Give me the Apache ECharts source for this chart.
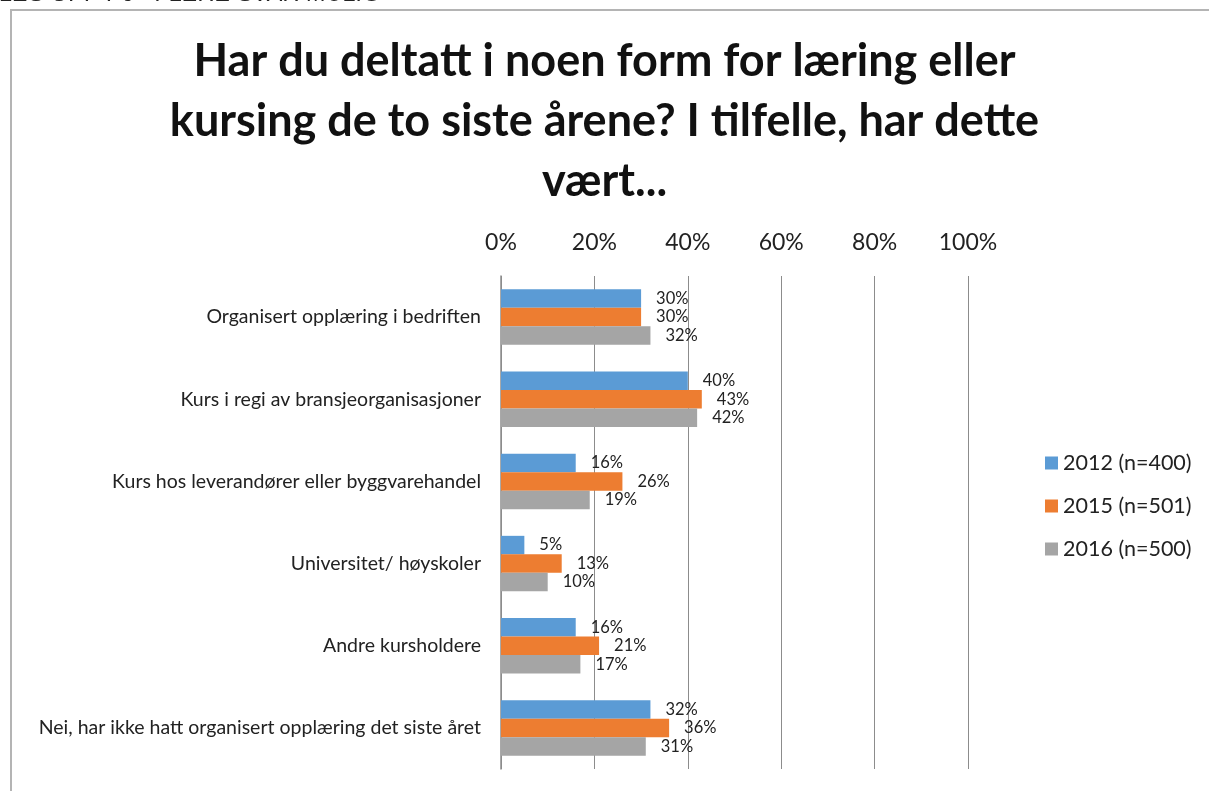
<!DOCTYPE html>
<html>
<head>
<meta charset="utf-8">
<script src="https://cdn.jsdelivr.net/npm/echarts@6/dist/echarts.min.js"></script>
<style>
  html, body { margin: 0; padding: 0; background: #fff; }
  #chart { width: 1209px; height: 791px; }
</style>
</head>
<body>
<div id="chart"></div>
<script>
// kategorier og verdier (prosent)
const categories = [
  'Organisert opplæring i bedriften',
  'Kurs i regi av bransjeorganisasjoner',
  'Kurs hos leverandører eller byggvarehandel',
  'Universitet/ høyskoler',
  'Andre kursholdere',
  'Nei, har ikke hatt organisert opplæring det siste året'
]
const seriesNames = ['2012 (n=400)', '2015 (n=501)', '2016 (n=500)']
const values2012 = [30, 40, 16, 5, 16, 32]
const values2015 = [30, 43, 26, 13, 21, 36]
const values2016 = [32, 42, 19, 10, 17, 31]
const colors = ['#5b9bd5', '#ed7d31', '#a5a5a5']

const fontFamily = 'Lato, "Open Sans", sans-serif'

const chart = echarts.init(document.getElementById('chart'))

const makeSeries = (name, data, color) => ({
  name,
  type: 'bar',
  data,
  barWidth: 18.5,
  barGap: '0%',
  itemStyle: { color },
  label: {
    show: true,
    position: 'right',
    distance: 15,
    formatter: '{c}%',
    color: '#222',
    fontSize: 16.5,
    fontFamily
  }
})

const option = {
  animation: false,
  textStyle: { fontFamily },
  graphic: [
    {
      type: 'rect',
      shape: { x: 11, y: 10, width: 1220, height: 800 },
      style: { fill: 'none', stroke: '#b4b4b4', lineWidth: 2 },
      z: -1
    },
    {
      type: 'text',
      left: 0,
      top: -17,
      style: {
        text: 'LES OPP F6 - FLERE SVAR MULIG',
        font: 'italic 23.5px "Liberation Sans", Arial, sans-serif',
        fill: '#222'
      }
    },
    {
      type: 'text',
      left: 'center',
      top: 31,
      style: {
        text: 'Har du deltatt i noen form for læring eller\nkursing de to siste årene? I tilfelle, har dette\nvært...',
        font: 'bold 45px ' + fontFamily,
        lineHeight: 60,
        textAlign: 'center',
        fill: '#111'
      }
    }
  ],
  legend: {
    orient: 'vertical',
    left: 1040,
    top: 447,
    itemWidth: 13,
    itemHeight: 13,
    itemGap: 21,
    icon: 'rect',
    textStyle: { fontSize: 21.5, color: '#222', fontFamily },
    data: seriesNames
  },
  grid: {
    left: 501,
    right: 241,
    top: 276,
    bottom: 22
  },
  xAxis: {
    type: 'value',
    position: 'top',
    min: 0,
    max: 100,
    interval: 20,
    axisLine: { show: false },
    axisTick: { show: false },
    axisLabel: {
      formatter: '{value}%',
      fontSize: 23,
      color: '#222',
      margin: 22,
      fontFamily
    },
    splitLine: { lineStyle: { color: '#8c8c8c', width: 1 } }
  },
  yAxis: {
    type: 'category',
    inverse: true,
    data: categories,
    axisLine: { lineStyle: { color: '#8c8c8c', width: 1.5 } },
    axisTick: { length: 7, lineStyle: { color: '#8c8c8c' } },
    axisLabel: {
      fontSize: 19.5,
      color: '#222',
      margin: 20,
      fontFamily
    }
  },
  series: [
    makeSeries(seriesNames[0], values2012, colors[0]),
    makeSeries(seriesNames[1], values2015, colors[1]),
    makeSeries(seriesNames[2], values2016, colors[2])
  ]
}

chart.setOption(option)
</script>
</body>
</html>
